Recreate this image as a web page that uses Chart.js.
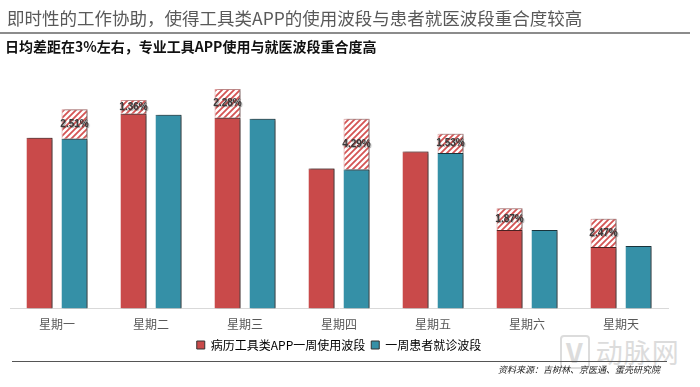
<!DOCTYPE html>
<html>
<head>
<meta charset="utf-8">
<script src="https://cdn.jsdelivr.net/npm/chart.js@4/dist/chart.umd.min.js"></script>
<style>
  html, body { margin: 0; padding: 0; background: #fff; }
  body { width: 700px; height: 387px; position: relative; overflow: hidden;
         font-family: "Noto Sans CJK SC", "Noto Sans", sans-serif; }
  #chart { position: absolute; left: 0; top: 0; }
  .title { position: absolute; left: 7px; top: 5px; font-size: 17.5px; color: #595959; white-space: nowrap; }
  .rule { position: absolute; left: 0; top: 32px; width: 690px; height: 2px; background: #8c8c8c; }
  .sub { position: absolute; left: 5px; top: 36px; font-size: 14px; font-weight: 700; color: #111; white-space: nowrap; }
  .foot-rule { position: absolute; left: 12px; top: 361px; width: 655px; height: 1px; background: #555; }
  .source { position: absolute; right: 40px; top: 363px; font-size: 9px; font-style: italic; color: #222; white-space: nowrap; }
  .mark { position: absolute; left: 560px; top: 332px; font-size: 27px; color: #dcdcdc; white-space: nowrap; letter-spacing: 1px; }
  .mark b { display: inline-block; border: 2px solid #dcdcdc; border-radius: 4px; padding: 0 4px; font-weight: 700; margin-right: 6px; line-height: 30px; }
</style>
</head>
<body>
<div class="mark"><b>V</b>动脉网</div>
<canvas id="chart" width="700" height="387"></canvas>
<div class="title">即时性的工作协助，使得工具类APP的使用波段与患者就医波段重合度较高</div>
<div class="rule"></div>
<div class="sub">日均差距在3%左右，专业工具APP使用与就医波段重合度高</div>
<div class="foot-rule"></div>
<div class="source">资料来源：吉树林、京医通、蛋壳研究院</div>
<script>
const days = ["星期一", "星期二", "星期三", "星期四", "星期五", "星期六", "星期天"];
// 病历工具类APP一周使用波段（实心部分）
const appUse = [17.2, 19.6, 19.2, 14.1, 15.8, 7.9, 6.2];
// 一周患者就诊波段（实心部分）
const visits = [17.1, 19.5, 19.1, 14.0, 15.65, 7.9, 6.3];
// 差距（斜线部分）
const appGap = [null, 1.4, 2.9, null, null, 2.2, 2.85];
const visitGap = [2.95, null, null, 5.1, 1.95, null, null];
const gapLabels = ["2.51%", "1.36%", "2.28%", "4.29%", "1.53%", "1.87%", "2.47%"];

const RED = "#c94a4a";
const TEAL = "#3590a7";

function stripes() {
  const c = document.createElement("canvas");
  c.width = 6; c.height = 6;
  const g = c.getContext("2d");
  g.fillStyle = "#fff";
  g.fillRect(0, 0, 6, 6);
  g.strokeStyle = "#d45454";
  g.lineWidth = 1.8;
  g.beginPath();
  g.moveTo(-1, 7); g.lineTo(7, -1);
  g.moveTo(-4, 4); g.lineTo(4, -4);
  g.moveTo(2, 10); g.lineTo(10, 2);
  g.stroke();
  return g.createPattern(c, "repeat");
}
const hatch = stripes();

const shadowPlugin = {
  id: "barShadow",
  beforeDatasetsDraw(chart) {
    const ctx = chart.ctx;
    ctx.save();
    ctx.shadowColor = "rgba(0,0,0,0.55)";
    ctx.shadowBlur = 2;
    ctx.shadowOffsetX = 2;
    ctx.shadowOffsetY = 0;
  },
  afterDatasetsDraw(chart) {
    const ctx = chart.ctx;
    ctx.restore();
    ctx.save();
    ctx.font = "bold 10px 'Liberation Sans', Arial, sans-serif";
    ctx.fillStyle = "#3a3a3a";
    ctx.textAlign = "center";
    ctx.textBaseline = "middle";
    ctx.shadowColor = "rgba(0,0,0,0.35)";
    ctx.shadowOffsetX = 1;
    ctx.shadowOffsetY = 1;
    ctx.shadowBlur = 1;
    [2, 3].forEach((di) => {
      const meta = chart.getDatasetMeta(di);
      meta.data.forEach((bar, i) => {
        if (chart.data.datasets[di].data[i] == null) return;
        ctx.fillText(gapLabels[i], bar.x, (bar.y + bar.base) / 2);
      });
    });
    ctx.restore();
  },
};

const barSize = { categoryPercentage: 0.745, barPercentage: 0.743 };

new Chart(document.getElementById("chart"), {
  type: "bar",
  data: {
    labels: days,
    datasets: [
      { label: "病历工具类APP一周使用波段", data: appUse, stack: "app", backgroundColor: RED,
        borderColor: "#5a2a2a", borderWidth: { top: 1, right: 1, left: 0, bottom: 0 }, ...barSize },
      { label: "一周患者就诊波段", data: visits, stack: "visit", backgroundColor: TEAL,
        borderColor: "#1f3f48", borderWidth: { top: 1, right: 1, left: 0, bottom: 0 }, ...barSize },
      { label: "gapApp", data: appGap, stack: "app", backgroundColor: hatch,
        borderColor: "#e6a3a3", borderWidth: 1, ...barSize },
      { label: "gapVisit", data: visitGap, stack: "visit", backgroundColor: hatch,
        borderColor: "#e6a3a3", borderWidth: 1, ...barSize },
    ],
  },
  options: {
    responsive: false,
    animation: false,
    layout: { padding: { top: 80, left: 10, right: 32, bottom: 26 } },
    plugins: {
      tooltip: { enabled: false },
      legend: {
        position: "bottom",
        labels: {
          boxWidth: 8,
          boxHeight: 8,
          padding: 6,
          color: "#333",
          font: { family: "'Noto Sans CJK SC', sans-serif", size: 12 },
          generateLabels: (chart) => chart.data.datasets.slice(0, 2).map((ds, i) => ({
            text: ds.label, fillStyle: ds.backgroundColor, strokeStyle: "#333",
            lineWidth: 1, datasetIndex: i, hidden: false,
          })),
        },
      },
    },
    scales: {
      x: {
        grid: { display: false },
        border: { color: "#d9d9d9" },
        ticks: { color: "#595959", padding: 1, font: { family: "'Noto Sans CJK SC', sans-serif", size: 12 } },
      },
      y: { stacked: true, display: false, min: 0, max: 23 },
    },
  },
  plugins: [shadowPlugin],
});
</script>
</body>
</html>
